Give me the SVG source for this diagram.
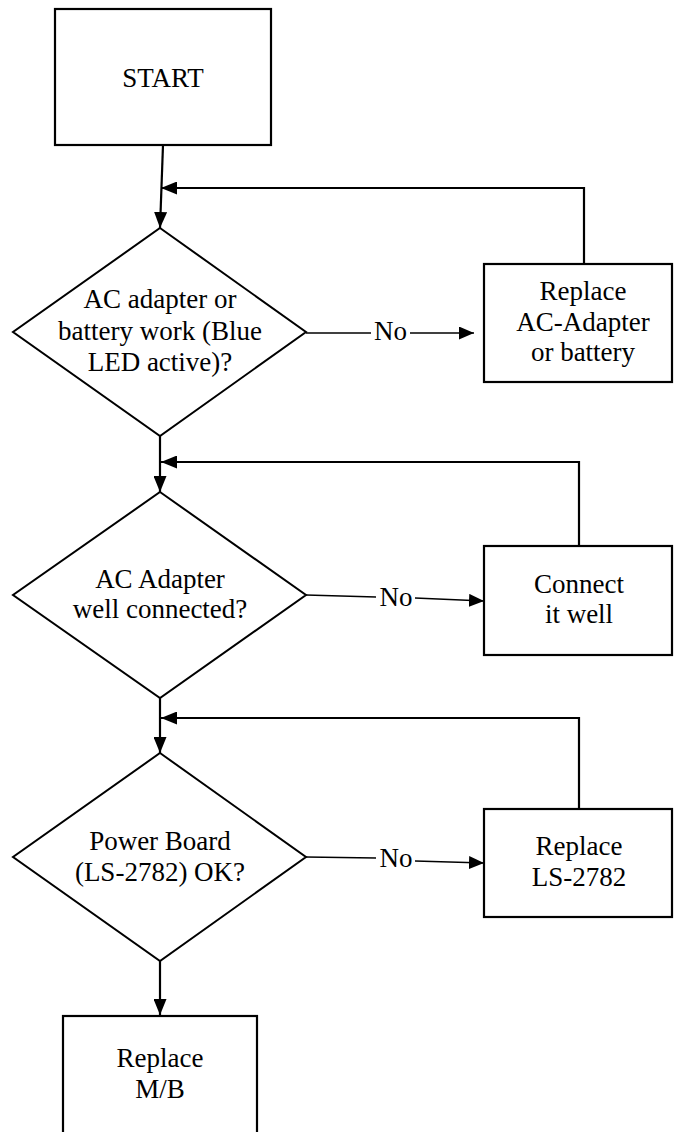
<svg xmlns="http://www.w3.org/2000/svg" width="674" height="1132" viewBox="0 0 674 1132">
<style>
  .box { fill: #ffffff; stroke: #000000; stroke-width: 2.2; }
  .dia { fill: #ffffff; stroke: #000000; stroke-width: 2; }
  .t { font-family: 'Liberation Serif', 'DejaVu Serif', serif; font-size: 27px; fill: #000000; text-anchor: middle; }
  .c { fill: none; stroke: #000000; stroke-width: 2.2; }
  .n { fill: none; stroke: #000000; stroke-width: 1.4; }
</style>
<defs>
  <marker id="ah" viewBox="0 0 16 13" refX="16" refY="6.5" markerWidth="16" markerHeight="13" markerUnits="userSpaceOnUse" orient="auto">
    <path d="M0,0 L16,6.5 L0,13 Z" fill="#000000"/>
  </marker>
  <marker id="ahn" viewBox="0 0 15 13" refX="15" refY="6.5" markerWidth="15" markerHeight="13" markerUnits="userSpaceOnUse" orient="auto">
    <path d="M0,0 L15,6.5 L0,13 Z" fill="#000000"/>
  </marker>
</defs>
<rect width="674" height="1132" fill="#ffffff"/>

<g id="connectors">
  <path class="c" d="M163,145 L160,228" marker-end="url(#ah)"/>
  <path class="c" d="M584,264 L584,188 L161,188" marker-end="url(#ah)"/>
  <path class="n" d="M306,333 L371,333"/>
  <text class="t" x="390.5" y="340" font-family="Liberation Serif, DejaVu Serif, serif">No</text>
  <path class="n" d="M410,333 L474,333" marker-end="url(#ahn)"/>

  <path class="c" d="M160,436 L160,492" marker-end="url(#ah)"/>
  <path class="c" d="M579,546 L579,462 L161,462" marker-end="url(#ah)"/>
  <path class="n" d="M306,595 L376,597"/>
  <text class="t" x="396" y="606" font-family="Liberation Serif, DejaVu Serif, serif">No</text>
  <path class="n" d="M415,598 L484,601" marker-end="url(#ahn)"/>

  <path class="c" d="M160,698 L160,753" marker-end="url(#ah)"/>
  <path class="c" d="M579,809 L579,718 L161,718" marker-end="url(#ah)"/>
  <path class="n" d="M306,857 L376,858"/>
  <text class="t" x="396" y="866.5" font-family="Liberation Serif, DejaVu Serif, serif">No</text>
  <path class="n" d="M415,861 L484,863" marker-end="url(#ahn)"/>

  <path class="c" d="M160,961 L160,1015" marker-end="url(#ah)"/>
</g>

<g id="start">
  <rect class="box" x="55" y="9" width="216" height="136"/>
  <text class="t" x="163" y="87">START</text>
</g>

<g id="decision1">
  <polygon class="dia" points="160,228 306,332 160,436 13,332"/>
  <text class="t" x="160" y="308">AC adapter or</text>
  <text class="t" x="160" y="340">battery work (Blue</text>
  <text class="t" x="160" y="371">LED active)?</text>
</g>

<g id="replace-adapter">
  <rect class="box" x="484" y="264" width="188" height="118"/>
  <text class="t" x="583" y="300">Replace</text>
  <text class="t" x="583" y="331">AC-Adapter</text>
  <text class="t" x="583" y="361">or battery</text>
</g>

<g id="decision2">
  <polygon class="dia" points="160,492 306,595 160,698 13,595"/>
  <text class="t" x="160" y="588">AC Adapter</text>
  <text class="t" x="160" y="618">well connected?</text>
</g>

<g id="connect-well">
  <rect class="box" x="484" y="546" width="188" height="109"/>
  <text class="t" x="579" y="593">Connect</text>
  <text class="t" x="579" y="623">it well</text>
</g>

<g id="decision3">
  <polygon class="dia" points="160,753 306,857 160,961 13,857"/>
  <text class="t" x="160" y="850">Power Board</text>
  <text class="t" x="160" y="881">(LS-2782) OK?</text>
</g>

<g id="replace-ls">
  <rect class="box" x="484" y="809" width="188" height="108"/>
  <text class="t" x="579" y="855">Replace</text>
  <text class="t" x="579" y="886">LS-2782</text>
</g>

<g id="replace-mb">
  <rect class="box" x="63" y="1016" width="194" height="130"/>
  <text class="t" x="160" y="1067">Replace</text>
  <text class="t" x="160" y="1098">M/B</text>
</g>
</svg>
